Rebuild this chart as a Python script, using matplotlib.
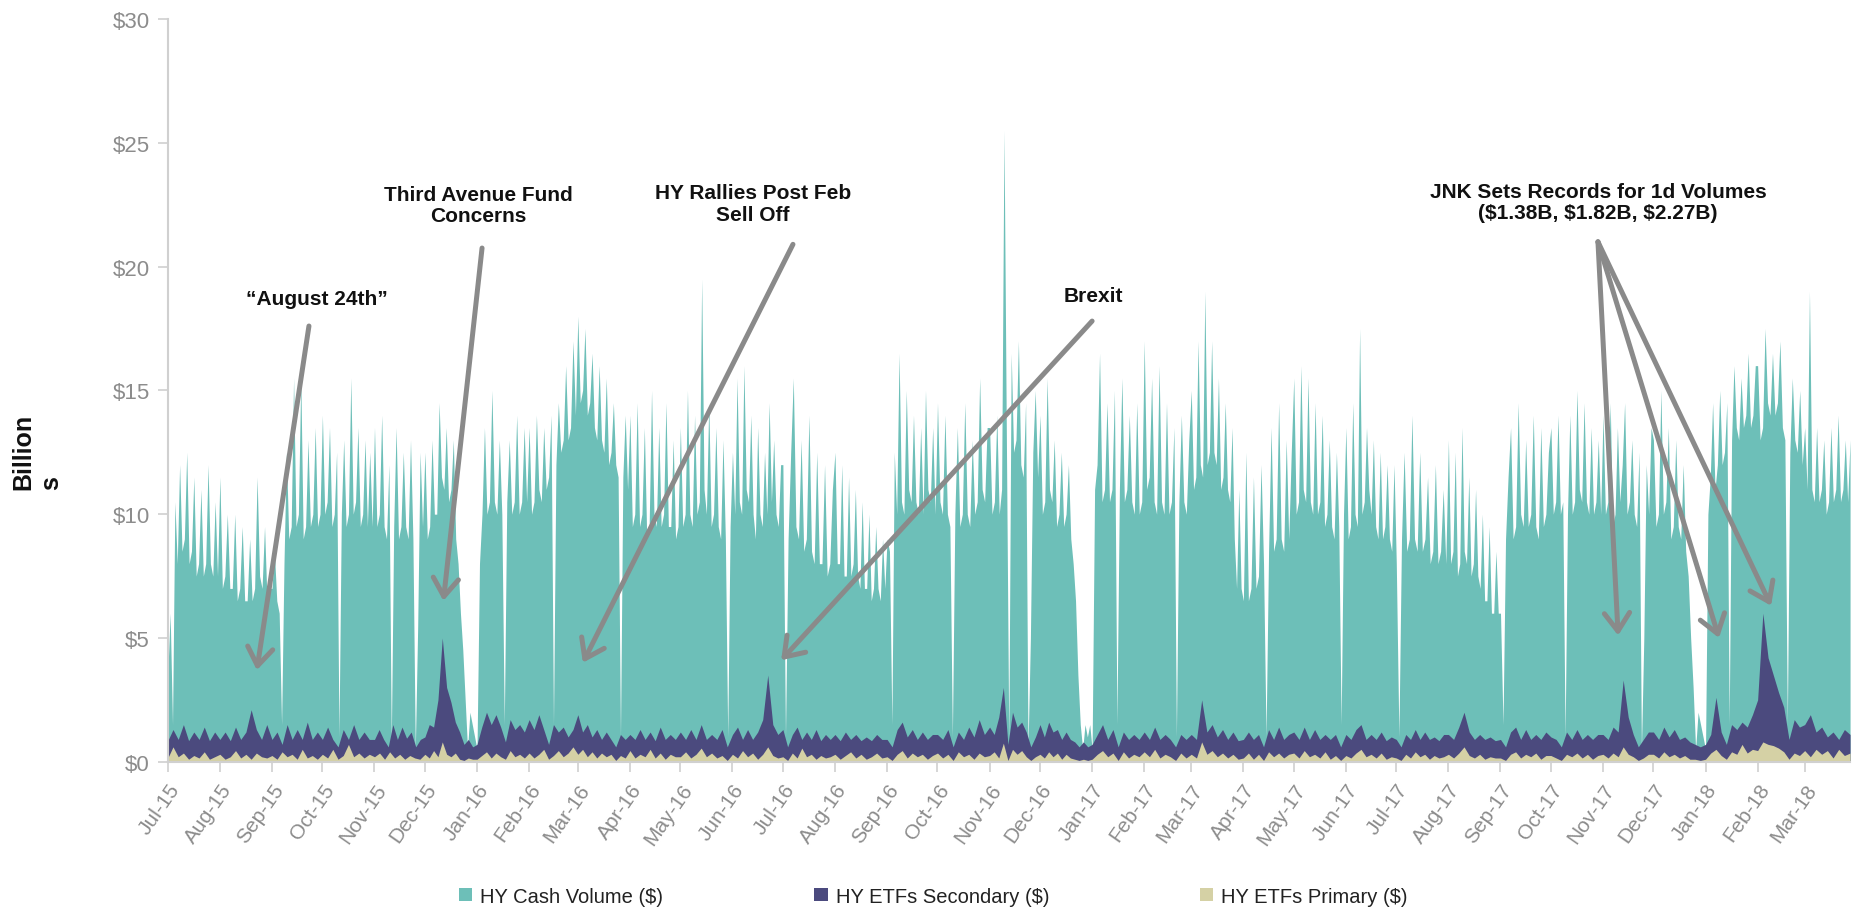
import matplotlib
matplotlib.use('Agg')
import matplotlib.pyplot as plt
import matplotlib.dates as mdates
from matplotlib.patches import Patch
import pandas as pd

plt.rcParams['font.family'] = ['Liberation Sans', 'DejaVu Sans']
plt.rcParams['text.parse_math'] = False

# volumes in $B, one row per month, points spread evenly over the month
months = pd.date_range('2015-07-01', '2018-03-01', freq='MS')
data_end = pd.Timestamp('2018-03-28')
month_labels = [m.strftime('%b-%y') for m in months]

# daily cash volume
cash = [
    [3.5, 6.0, 1.5, 10.5, 8.0, 12.0, 8.5, 9.0, 12.5, 8.0, 8.5, 11.5, 7.5, 8.0, 11.0, 7.5, 8.0, 12.0, 8.0, 7.5, 10.5, 7.5],
    [11.5, 7.0, 7.5, 10.0, 7.0, 7.0, 10.0, 6.5, 7.0, 9.5, 6.5, 6.5, 9.0, 6.5, 7.0, 11.5, 7.5, 7.0, 9.5, 6.5, 7.0],
    [7.0, 8.5, 6.5, 6.0, 1.5, 8.0, 12.5, 9.0, 9.5, 15.5, 9.5, 10.0, 15.5, 9.0, 9.5, 13.0, 9.5, 10.0, 13.5, 9.5, 10.0],
    [14.0, 10.0, 10.5, 13.5, 9.5, 10.0, 12.5, 1.0, 10.0, 13.0, 9.5, 10.0, 15.5, 10.0, 10.5, 13.5, 9.5, 10.0, 13.0, 9.5, 12.5, 9.5],
    [13.5, 9.5, 10.0, 14.0, 9.5, 9.0, 12.0, 0.8, 9.5, 13.5, 9.0, 9.5, 12.5, 9.5, 9.0, 13.0, 9.0, 0.5, 5.5, 12.5, 9.5],
    [12.5, 9.0, 9.5, 13.0, 10.0, 10.0, 14.5, 11.5, 11.0, 13.5, 10.5, 11.0, 13.0, 9.0, 8.0, 6.0, 4.5, 2.5, 0.5, 2.0, 1.5, 1.0],
    [0.5, 8.0, 10.0, 13.5, 10.0, 10.5, 15.0, 10.5, 10.0, 13.0, 10.0, 1.5, 10.5, 13.0, 10.0, 10.5, 14.0, 10.0, 10.5, 13.5, 10.5],
    [13.5, 10.0, 10.5, 14.0, 11.0, 10.5, 13.5, 11.0, 11.5, 14.0, 1.5, 12.0, 14.5, 12.5, 13.0, 16.0, 13.0, 13.5, 17.0, 14.0],
    [18.0, 14.5, 15.0, 17.5, 14.0, 14.5, 16.5, 13.5, 13.0, 16.0, 13.0, 12.5, 15.5, 12.0, 12.5, 14.5, 12.0, 11.5, 1.0, 11.5, 14.0, 11.0],
    [14.0, 9.5, 10.0, 14.5, 9.5, 10.0, 13.5, 9.0, 9.5, 15.0, 10.0, 9.5, 13.5, 9.5, 10.0, 14.5, 9.5, 9.5, 13.0, 9.0, 9.5],
    [13.5, 9.5, 10.0, 15.0, 10.0, 9.5, 14.0, 10.0, 10.5, 19.5, 11.0, 10.0, 14.5, 9.5, 10.0, 13.5, 9.5, 9.0, 13.0, 9.0, 1.0, 9.5],
    [12.5, 10.0, 15.5, 10.5, 10.0, 16.0, 11.0, 10.5, 14.0, 10.0, 9.0, 13.5, 10.0, 9.5, 12.5, 10.0, 14.5, 10.5, 13.0, 10.0, 9.5, 12.0],
    [12.0, 1.0, 9.0, 12.5, 15.5, 9.5, 9.0, 13.0, 8.5, 9.0, 14.0, 8.5, 8.0, 12.5, 8.0, 8.0, 12.0, 7.5, 8.0, 11.0],
    [12.5, 8.0, 8.0, 12.0, 7.5, 7.5, 11.5, 7.5, 8.0, 11.0, 7.5, 7.0, 10.5, 7.0, 7.0, 10.0, 6.5, 7.0, 9.5, 7.0, 6.5, 9.0, 7.0],
    [9.0, 8.5, 1.5, 12.5, 10.0, 16.5, 10.5, 10.0, 15.0, 11.0, 10.5, 14.0, 10.5, 10.0, 13.5, 10.0, 15.0, 11.0, 10.5, 13.5, 10.0],
    [14.5, 10.5, 10.0, 14.0, 10.0, 9.5, 1.0, 10.0, 13.5, 9.5, 10.0, 14.5, 10.0, 9.5, 13.0, 10.0, 10.5, 15.5, 11.0, 10.5, 13.5],
    [13.5, 10.0, 10.5, 14.0, 10.0, 11.0, 25.5, 13.0, 0.8, 16.5, 12.5, 13.0, 17.0, 12.0, 11.5, 14.5, 0.5, 5.0, 12.5, 15.0, 11.5],
    [14.0, 10.0, 10.5, 15.5, 11.0, 10.5, 13.0, 9.5, 10.0, 12.5, 9.5, 10.0, 12.0, 9.0, 8.0, 6.5, 3.5, 1.5, 0.5, 1.5, 1.0, 1.5],
    [0.5, 11.0, 12.0, 16.5, 10.5, 11.0, 14.5, 10.5, 11.0, 15.0, 1.5, 11.0, 15.5, 10.5, 11.0, 14.0, 10.5, 10.0, 14.5, 10.0, 10.5],
    [17.0, 11.0, 11.5, 15.5, 10.5, 10.0, 16.0, 10.5, 10.0, 14.5, 10.0, 10.5, 13.5, 1.0, 10.5, 14.0, 10.5, 10.0, 13.0],
    [15.0, 11.0, 11.5, 17.0, 12.0, 11.5, 19.0, 12.0, 12.5, 17.0, 12.5, 12.0, 15.5, 11.0, 11.5, 14.5, 11.0, 10.5, 13.5, 9.0, 7.0, 11.0, 7.0],
    [6.5, 12.5, 6.5, 7.0, 11.5, 7.0, 7.5, 12.0, 8.0, 1.0, 8.5, 13.5, 8.5, 9.0, 14.5, 9.0, 8.5, 13.0, 9.0, 12.5],
    [15.5, 10.0, 10.5, 16.0, 11.0, 10.5, 15.5, 10.5, 10.0, 14.5, 10.0, 10.5, 14.0, 9.5, 10.0, 13.0, 9.5, 9.0, 12.5, 9.5, 1.5, 10.0],
    [13.5, 9.0, 9.5, 14.5, 10.0, 9.5, 17.5, 10.0, 10.5, 13.5, 11.0, 10.0, 13.0, 9.5, 9.0, 12.5, 9.0, 9.5, 12.0, 9.0, 8.5, 12.0],
    [8.0, 1.0, 9.0, 12.5, 8.5, 9.0, 14.0, 9.0, 8.5, 12.5, 8.5, 9.0, 11.5, 8.0, 8.5, 12.0, 8.0, 8.5, 11.0, 8.0],
    [13.0, 8.0, 8.5, 12.5, 7.5, 8.0, 13.5, 8.5, 8.0, 11.5, 7.5, 8.0, 11.0, 7.5, 7.0, 10.0, 6.5, 6.5, 9.5, 6.0, 6.0, 8.5, 6.0],
    [6.0, 1.5, 9.0, 11.5, 13.5, 9.0, 9.5, 14.5, 10.0, 9.5, 13.0, 9.5, 10.0, 14.0, 9.5, 9.0, 13.5, 9.5, 10.0, 12.5],
    [13.5, 10.0, 10.5, 14.0, 10.0, 10.5, 1.0, 10.0, 14.0, 10.0, 10.5, 15.0, 11.0, 10.5, 14.5, 10.5, 10.0, 13.5, 10.0, 10.5, 13.0, 10.0],
    [14.0, 10.0, 10.5, 14.5, 9.5, 10.0, 13.5, 10.5, 12.0, 14.5, 10.0, 10.5, 13.0, 10.0, 9.5, 12.5, 0.5, 5.0, 12.0, 10.0, 13.5],
    [13.0, 9.5, 10.0, 15.0, 10.0, 10.5, 13.5, 9.0, 9.5, 13.0, 9.5, 9.0, 12.0, 8.5, 7.5, 5.0, 3.0, 0.5, 2.0, 1.5, 1.0],
    [0.5, 10.0, 11.5, 14.5, 11.0, 12.0, 15.0, 12.0, 12.5, 14.5, 1.5, 13.0, 16.0, 13.5, 13.0, 15.5, 13.5, 14.0, 16.5, 13.5, 14.0, 16.0],
    [16.0, 13.0, 13.5, 17.5, 14.5, 14.0, 16.5, 14.0, 14.5, 17.0, 13.5, 13.0, 1.5, 12.5, 15.5, 13.0, 12.5, 15.0, 12.0],
    [13.5, 11.0, 19.0, 11.0, 10.5, 13.5, 10.5, 11.0, 13.0, 10.0, 10.5, 13.5, 10.5, 11.0, 14.0, 10.5, 11.0, 13.0, 10.5, 13.0],
]

secondary = [
    [0.85, 1.3, 0.9, 1.5, 0.85, 1.2, 0.9, 1.4, 0.85, 1.2],
    [0.9, 1.2, 0.85, 1.4, 0.9, 1.2, 2.1, 1.3, 0.9, 1.5],
    [0.9, 1.2, 0.7, 1.5, 0.9, 1.3, 0.9, 1.6, 0.9, 1.2],
    [0.9, 1.4, 0.9, 0.6, 1.3, 0.9, 1.5, 0.9, 1.2, 0.9],
    [0.9, 1.3, 0.9, 0.6, 1.5, 0.9, 1.4, 0.95, 1.2, 0.6, 0.9],
    [1.0, 1.5, 1.4, 2.5, 5.0, 3.0, 2.4, 1.6, 1.2, 0.7, 0.9, 0.6],
    [0.7, 1.4, 2.0, 1.5, 1.9, 1.4, 0.8, 1.7, 1.3, 1.5, 1.2],
    [1.7, 1.3, 1.9, 1.3, 0.7, 1.5, 1.2, 1.4, 1.0, 1.3],
    [1.9, 1.2, 1.5, 1.0, 1.3, 0.9, 1.2, 0.9, 0.6, 1.1, 0.9],
    [1.1, 0.9, 1.3, 0.9, 1.2, 0.85, 1.4, 0.9, 1.1, 0.9],
    [1.2, 0.9, 1.3, 0.9, 1.5, 0.9, 1.1, 0.9, 1.3, 0.6],
    [1.1, 1.4, 0.9, 1.3, 0.9, 1.2, 1.7, 3.5, 1.5, 1.1],
    [1.3, 0.6, 1.1, 1.4, 0.9, 1.2, 0.9, 1.3, 0.85, 1.1, 0.9],
    [1.1, 0.85, 1.2, 0.9, 1.1, 0.85, 1.0, 0.85, 1.1, 0.9],
    [0.9, 0.6, 1.3, 1.6, 1.0, 1.3, 0.9, 1.2, 0.9, 1.1],
    [1.1, 0.9, 1.3, 0.6, 1.2, 0.9, 1.4, 1.0, 1.7, 1.1],
    [1.4, 1.1, 1.8, 3.0, 0.7, 2.0, 1.4, 1.6, 1.2, 0.6, 1.0],
    [1.5, 1.0, 1.6, 1.2, 1.3, 0.9, 1.2, 0.9, 0.8, 0.6, 0.8, 0.6],
    [0.7, 1.1, 1.5, 0.9, 1.3, 0.6, 1.2, 0.9, 1.1, 0.9],
    [1.2, 0.9, 1.4, 0.9, 1.1, 0.9, 0.6, 1.1, 0.9],
    [1.1, 0.9, 2.5, 1.2, 1.5, 1.0, 1.3, 0.9, 1.2, 0.85],
    [0.9, 1.2, 0.9, 1.1, 0.6, 1.3, 0.9, 1.4, 0.9, 1.1],
    [1.2, 0.9, 1.4, 0.9, 1.3, 0.9, 1.1, 0.9, 1.1, 0.6],
    [1.1, 0.9, 1.3, 1.5, 0.9, 1.1, 0.9, 1.2, 0.85, 1.0],
    [0.9, 0.6, 1.1, 0.9, 1.3, 0.9, 1.2, 0.9, 1.0, 0.85, 1.1],
    [1.1, 0.9, 1.4, 2.0, 1.2, 0.9, 1.1, 0.9, 1.0, 0.85],
    [0.9, 0.6, 1.2, 1.4, 0.9, 1.3, 0.9, 1.1, 0.9, 1.2],
    [1.0, 0.9, 0.6, 1.2, 0.9, 1.3, 0.9, 1.1, 0.9, 1.1],
    [1.1, 0.9, 1.4, 1.2, 3.3, 1.8, 1.1, 0.6, 0.9, 1.2],
    [1.2, 0.9, 1.4, 1.0, 1.3, 0.9, 1.0, 0.8, 0.7, 0.6],
    [0.7, 1.1, 2.6, 1.2, 0.7, 1.5, 1.3, 1.6, 1.4, 1.9],
    [2.5, 6.0, 4.2, 3.5, 2.8, 2.2, 0.9, 1.7, 1.4],
    [1.5, 1.9, 1.2, 1.4, 1.0, 1.2, 0.9, 1.3, 1.1],
]

primary = [
    [0.15, 0.6, 0.2, 0.35, 0.1, 0.25, 0.15, 0.4, 0.1, 0.2],
    [0.3, 0.1, 0.2, 0.45, 0.15, 0.3, 0.1, 0.35, 0.2, 0.15],
    [0.25, 0.1, 0.4, 0.2, 0.3, 0.1, 0.5, 0.15, 0.25, 0.1],
    [0.3, 0.15, 0.5, 0.1, 0.25, 0.7, 0.2, 0.35, 0.15, 0.3],
    [0.2, 0.35, 0.1, 0.4, 0.15, 0.3, 0.1, 0.25, 0.15, 0.1],
    [0.3, 0.15, 0.45, 0.2, 0.8, 0.3, 0.2, 0.35, 0.1, 0.05, 0.15, 0.1],
    [0.1, 0.25, 0.4, 0.15, 0.35, 0.2, 0.1, 0.45, 0.2, 0.3, 0.15],
    [0.35, 0.15, 0.3, 0.5, 0.1, 0.25, 0.45, 0.2, 0.35, 0.6],
    [0.3, 0.5, 0.2, 0.4, 0.15, 0.35, 0.2, 0.3, 0.05, 0.25, 0.15],
    [0.45, 0.15, 0.3, 0.2, 0.5, 0.15, 0.35, 0.1, 0.3, 0.2],
    [0.2, 0.4, 0.15, 0.3, 0.55, 0.2, 0.35, 0.15, 0.25, 0.05],
    [0.3, 0.15, 0.45, 0.2, 0.35, 0.1, 0.3, 0.6, 0.25, 0.15],
    [0.2, 0.05, 0.35, 0.15, 0.55, 0.2, 0.3, 0.1, 0.25, 0.15, 0.2],
    [0.3, 0.1, 0.25, 0.4, 0.15, 0.3, 0.1, 0.2, 0.35, 0.15],
    [0.2, 0.05, 0.3, 0.45, 0.15, 0.35, 0.2, 0.3, 0.1, 0.25],
    [0.35, 0.15, 0.3, 0.05, 0.4, 0.2, 0.3, 0.1, 0.35, 0.2],
    [0.25, 0.4, 0.15, 0.75, 0.05, 0.5, 0.3, 0.45, 0.2, 0.05, 0.2],
    [0.3, 0.15, 0.4, 0.2, 0.35, 0.1, 0.3, 0.15, 0.1, 0.05, 0.1, 0.05],
    [0.1, 0.3, 0.45, 0.2, 0.35, 0.05, 0.4, 0.15, 0.3, 0.2],
    [0.4, 0.2, 0.5, 0.15, 0.3, 0.2, 0.05, 0.35, 0.15],
    [0.3, 0.15, 0.8, 0.3, 0.45, 0.2, 0.35, 0.15, 0.3, 0.1],
    [0.15, 0.35, 0.1, 0.3, 0.05, 0.4, 0.2, 0.35, 0.15, 0.3],
    [0.35, 0.15, 0.45, 0.2, 0.3, 0.15, 0.4, 0.1, 0.25, 0.05],
    [0.25, 0.15, 0.35, 0.5, 0.2, 0.3, 0.15, 0.35, 0.1, 0.2],
    [0.15, 0.05, 0.3, 0.15, 0.4, 0.2, 0.3, 0.1, 0.25, 0.15, 0.2],
    [0.3, 0.15, 0.35, 0.6, 0.25, 0.15, 0.3, 0.1, 0.2, 0.15],
    [0.15, 0.05, 0.3, 0.4, 0.15, 0.3, 0.2, 0.35, 0.1, 0.25],
    [0.25, 0.15, 0.05, 0.3, 0.2, 0.35, 0.15, 0.3, 0.1, 0.25],
    [0.3, 0.15, 0.35, 0.2, 0.6, 0.3, 0.2, 0.05, 0.15, 0.3],
    [0.3, 0.15, 0.4, 0.2, 0.3, 0.15, 0.25, 0.1, 0.1, 0.05],
    [0.1, 0.35, 0.5, 0.25, 0.1, 0.4, 0.3, 0.7, 0.35, 0.5],
    [0.45, 0.8, 0.7, 0.65, 0.55, 0.4, 0.1, 0.35, 0.25],
    [0.45, 0.2, 0.5, 0.3, 0.45, 0.15, 0.5, 0.25, 0.35],
]

series_names = ['HY Cash Volume ($)', 'HY ETFs Secondary ($)', 'HY ETFs Primary ($)']
colors = ['#6dbfb8', '#4b4a7e', '#d5d1a5']
y_ticks = [0, 5, 10, 15, 20, 25, 30]


def spread(rows):
    xs, ys = [], []
    edges = list(mdates.date2num(months)) + [mdates.date2num(data_end)]
    for i, row in enumerate(rows):
        start, stop = edges[i], edges[i + 1]
        last = i == len(rows) - 1
        step = (stop - start) / (len(row) - 1 if last else len(row))
        for k, v in enumerate(row):
            xs.append(start + k * step)
            ys.append(v)
    return xs, ys


fig = plt.figure(figsize=(18.56, 9.12), dpi=100)
ax = fig.add_axes([0.0904, 0.1637, 0.9064, 0.8143])

for rows, c in zip([cash, secondary, primary], colors):
    x, y = spread(rows)
    ax.fill_between(x, 0, y, color=c, linewidth=0)

ax.set_xlim(mdates.date2num(months[0]), mdates.date2num(data_end))
ax.set_ylim(0, 30)

ax.set_xticks(mdates.date2num(months))
ax.set_xticklabels(month_labels, rotation=55, ha='right', va='top',
                   rotation_mode='anchor', fontsize=15, color='#8c8c8c')
ax.set_yticks(y_ticks)
ax.set_yticklabels(['$%d' % v for v in y_ticks], fontsize=16, color='#8c8c8c')
ax.tick_params(axis='both', length=7, width=1.2, color='#cfcfcf', direction='out')
ax.tick_params(axis='x', pad=6)
ax.tick_params(axis='y', pad=6)

for side in ['top', 'right']:
    ax.spines[side].set_visible(False)
for side in ['left', 'bottom']:
    ax.spines[side].set_color('#d0d0d0')
    ax.spines[side].set_linewidth(1.5)

fig.text(0.02, 0.505, 'Billion\ns', rotation=90, ha='center', va='center',
         multialignment='left', fontsize=18, fontweight='bold', color='#111111')

arrow = dict(arrowstyle='->, head_length=0.5, head_width=0.35', color='#8a8a8a',
             lw=3.6, mutation_scale=26, shrinkA=0, shrinkB=0)
d = lambda s: mdates.date2num(pd.Timestamp(s))
txt = dict(ha='center', va='center', fontsize=15, fontweight='bold',
           color='#111111', linespacing=1.15)

ax.text(d('2015-09-28'), 18.7, '\u201cAugust 24th\u201d', **txt)
ax.annotate('', xy=(d('2015-08-23'), 3.7), xytext=(d('2015-09-23'), 17.6), arrowprops=arrow)

ax.text(d('2016-01-02'), 22.5, 'Third Avenue Fund\nConcerns', **txt)
ax.annotate('', xy=(d('2015-12-12'), 6.5), xytext=(d('2016-01-04'), 20.75), arrowprops=arrow)

ax.text(d('2016-06-13'), 22.55, 'HY Rallies Post Feb\nSell Off', **txt)
ax.annotate('', xy=(d('2016-03-04'), 4.0), xytext=(d('2016-07-07'), 20.9), arrowprops=arrow)

ax.text(d('2017-01-02'), 18.85, 'Brexit', **txt)
ax.annotate('', xy=(d('2016-06-30'), 4.1), xytext=(d('2017-01-01'), 17.8), arrowprops=arrow)

ax.text(d('2017-10-29'), 22.6, 'JNK Sets Records for 1d Volumes\n($1.38B, $1.82B, $2.27B)', **txt)
for target in [('2017-11-10', 5.1), ('2018-01-09', 5.0), ('2018-02-09', 6.3)]:
    ax.annotate('', xy=(d(target[0]), target[1]), xytext=(d('2017-10-29'), 21.0),
                arrowprops=arrow)

handles = [Patch(facecolor=c, edgecolor='none') for c in colors]
fig.legend(handles, series_names, loc='center', bbox_to_anchor=(0.503, 0.0164),
           ncol=3, frameon=False, fontsize=14.5, handlelength=0.65, handleheight=0.67,
           handletextpad=0.4, columnspacing=7.5, labelcolor='#222222')

fig.savefig('out.png', dpi=100)
